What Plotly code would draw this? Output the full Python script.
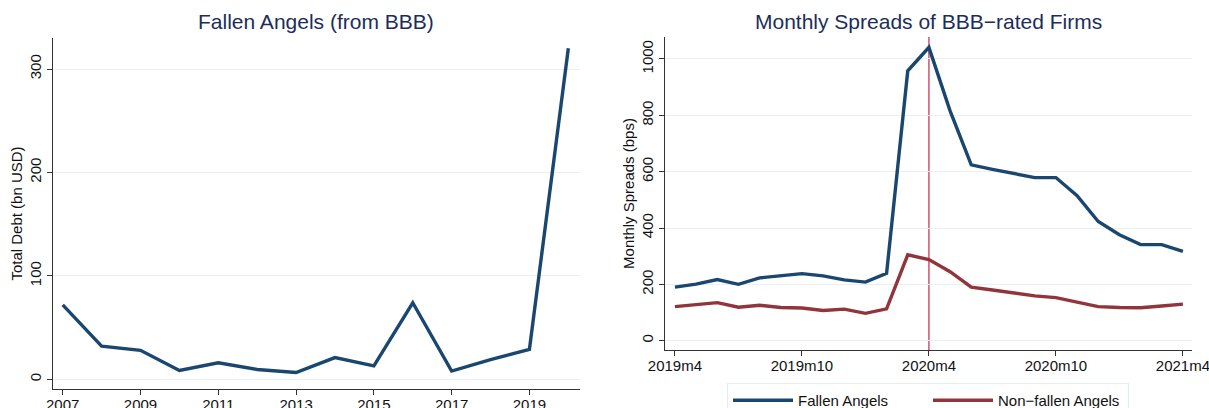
import plotly.graph_objects as go

# ---------------- data ----------------
years = [2007, 2008, 2009, 2010, 2011, 2012, 2013, 2014, 2015, 2016, 2017, 2018, 2019, 2020]
total_debt = [72, 32, 28, 8.5, 16, 9.5, 6.5, 21, 13, 74, 8, 19, 29, 320]

months = ["2019m4", "2019m5", "2019m6", "2019m7", "2019m8", "2019m9", "2019m10", "2019m11",
          "2019m12", "2020m1", "2020m2", "2020m3", "2020m4", "2020m5", "2020m6", "2020m7",
          "2020m8", "2020m9", "2020m10", "2020m11", "2020m12", "2021m1", "2021m2", "2021m3",
          "2021m4"]
fallen = [190, 201, 217, 200, 223, 231, 238, 230, 216, 208, 239, 958, 1041, 816, 624, 608,
          593, 579, 579, 515, 423, 376, 341, 341, 317]
non_fallen = [121, 127, 135, 119, 126, 118, 116, 107, 112, 97, 113, 305, 288, 245, 190, 180,
              170, 159, 153, 138, 121, 118, 117, 123, 130]

month_ticks = ["2019m4", "2019m10", "2020m4", "2020m10", "2021m4"]
event_month = "2020m4"

# ---------------- styling ----------------
W, H = 1209, 408
NAVY = "#1a476f"
MAROON = "#90353b"
TITLE_C = "#1c2d5c"
GRID = "#e9f0f1"
AXIS = "#333333"
FONT = "Liberation Sans, Arial, sans-serif"

month_idx = list(range(len(months)))
pos = {m: i for i, m in enumerate(months)}

def px(xpix):
    return xpix / W

def py(ypix):
    return (H - ypix) / H

fig = go.Figure()

fig.add_trace(go.Scatter(x=years, y=total_debt, mode="lines",
                         line=dict(color=NAVY, width=3.4), showlegend=False,
                         xaxis="x", yaxis="y"))
fig.add_trace(go.Scatter(x=month_idx, y=fallen, mode="lines", name="Fallen Angels",
                         line=dict(color=NAVY, width=3.4), xaxis="x2", yaxis="y2"))
fig.add_trace(go.Scatter(x=month_idx, y=non_fallen, mode="lines", name="Non\u2212fallen Angels",
                         line=dict(color=MAROON, width=3.4), xaxis="x2", yaxis="y2"))

axis_common = dict(showline=True, linecolor=AXIS, linewidth=1, ticks="outside",
                   ticklen=5, tickcolor=AXIS, tickwidth=1, zeroline=False,
                   ticklabeloverflow="allow",
                   tickfont=dict(size=15, color="#111111", family=FONT))

fig.update_layout(
    width=W, height=H,
    margin=dict(l=0, r=0, t=0, b=0, autoexpand=False),
    paper_bgcolor="white", plot_bgcolor="white",
    font=dict(family=FONT, size=15, color="#111111"),
    xaxis=dict(domain=[px(53), px(580)], range=[2006.75, 2020.3], anchor="y",
               tickmode="array", tickvals=years[::2], ticktext=[str(v) for v in years[::2]],
               showgrid=False, ticklabelstandoff=-3, **axis_common),
    yaxis=dict(domain=[py(389), py(38)], range=[-9.4, 330], anchor="x",
               tickvals=[0, 100, 200, 300], tickangle=-90, showgrid=True, gridcolor=GRID,
               gridwidth=1,
               title=dict(text="Total Debt (bn USD)", font=dict(size=15), standoff=0),
               **axis_common),
    xaxis2=dict(domain=[px(665), px(1192)], range=[-0.47, 24.43], anchor="y2",
                tickmode="array", tickvals=[pos[m] for m in month_ticks], ticktext=month_ticks,
                showgrid=False, ticklabelstandoff=-3, **axis_common),
    yaxis2=dict(domain=[py(350), py(37)], range=[-33, 1078], anchor="x2",
                tickvals=[0, 200, 400, 600, 800, 1000], tickangle=-90, showgrid=True,
                gridcolor=GRID, gridwidth=1,
                title=dict(text="Monthly Spreads (bps)", font=dict(size=15), standoff=0),
                **axis_common),
    legend=dict(orientation="h", x=px(727), y=py(383), xanchor="left", yanchor="top",
                bordercolor="#e3ecee", borderwidth=1, bgcolor="white",
                font=dict(size=15, family=FONT, color="#111111"), itemwidth=60,
                entrywidth=125, entrywidthmode="pixels"),
    annotations=[
        dict(text="Fallen Angels (from BBB)", x=(px(53) + px(580)) / 2, y=py(21),
             xref="paper", yref="paper", showarrow=False, xanchor="center", yanchor="middle",
             font=dict(size=21, color=TITLE_C, family=FONT)),
        dict(text="Monthly Spreads of BBB\u2212rated Firms", x=(px(665) + px(1192)) / 2, y=py(21),
             xref="paper", yref="paper", showarrow=False, xanchor="center", yanchor="middle",
             font=dict(size=21, color=TITLE_C, family=FONT)),
    ],
    shapes=[
        dict(type="line", xref="x2", yref="y2 domain", x0=pos[event_month], x1=pos[event_month],
             y0=0, y1=1, line=dict(color="#d4506d", width=1.5), layer="below"),
    ],
)

fig.write_html("out.html", config={"displayModeBar": False, "staticPlot": True},
               post_script="document.body.style.margin='0';document.body.style.overflow='hidden';")
